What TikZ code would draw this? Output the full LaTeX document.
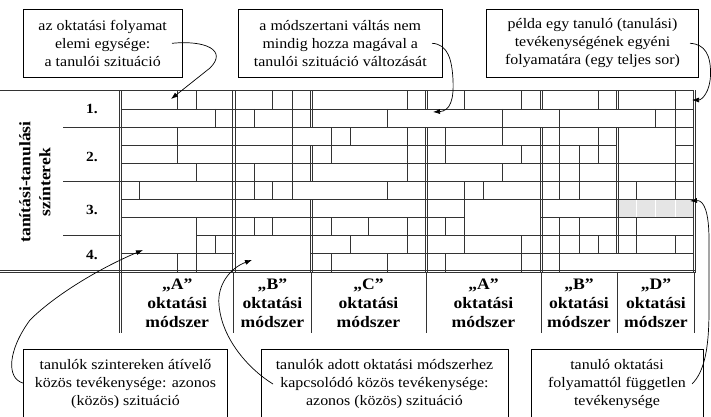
\documentclass[tikz,border=0pt]{standalone}
\usepackage{fontspec}
\setmainfont{Liberation Serif}
\newfontfamily\boxfont[FakeStretch=1.1]{Liberation Serif}
\newfontfamily\labfont[FakeStretch=1.1]{Liberation Serif}
\usetikzlibrary{arrows.meta}
\newcommand\dblv[3]{\draw[bnd] ({#1-1.1},#2) -- ({#1-1.1},#3) ({#1+1.1},#2) -- ({#1+1.1},#3);}
\begin{document}
\begin{tikzpicture}[x=1pt,y=-1pt,
  cell/.style={draw=black!80, line width=0.7pt},
  bnd/.style={draw=black!80, line width=0.7pt},
  callout/.style={draw=black, line width=0.8pt, align=center, inner sep=0pt,
    font=\boxfont\fontsize{14.5}{18}\selectfont},
  lab/.style={align=center, inner sep=0pt, font=\labfont\bfseries\fontsize{16}{19}\selectfont},
  lvl/.style={inner sep=0pt, font=\labfont\bfseries\fontsize{14}{16}\selectfont},
  conn/.style={draw=black, line width=0.7pt, -{Latex[length=7pt,width=5pt]}}
]
\useasboundingbox (0,0) rectangle (711,416);

% gray cell
\fill[black!10] (617,199.4) rectangle (694,217.4);
\foreach \x in {636.7,655.7,675.7} \draw[white, line width=0.8pt] (\x,199.4) -- (\x,217.4);

% horizontal row lines
\draw[cell] (0,90) -- (694,90);
\foreach \y in {108.9,127.3,163.8,181.7,199.4} \draw[cell] (120.5,\y) -- (694,\y);
\draw[cell] (120.5,145.5) -- (617,145.5) (675.7,145.5) -- (694,145.5);
\draw[cell] (120.5,217.4) -- (464.3,217.4) (540.7,217.4) -- (694,217.4);
\draw[cell] (196.7,235.6) -- (694,235.6);
\draw[cell] (120.5,253.5) -- (233.8,253.5) (311,253.5) -- (694,253.5);

% level separators
\foreach \y in {127.3,181.7,235.6} \draw[cell] (63,\y) -- (120.5,\y);

% vertical dividers per row
\foreach \t/\b/\xs in {
  90/108.9/{177.7,196.7,272.7,292.3,407.3,464.3,521,598.3,675.7},
  108.9/127.3/{215,254,292.3,387.3,502.3,559.3,655.7,675.7},
  127.3/145.5/{177.7,292.3,331,350,407.3,445,502.3,559.3,598.3,675.7},
  145.5/163.8/{177.7,292.3,331,407.3,445,521,559.3,579.3,598.3,675.7},
  163.8/181.7/{196.7,254,292.3,407.3,502.3,559.3,579.3,675.7},
  181.7/199.4/{139.3,254,272.7,292.3,387.3,464.3,483.3,559.3,579.3,636.7,675.7},
  199.4/217.4/{464.3},
  217.4/235.6/{196.7,254,272.7,331,368.3,407.3,445,464.3,559.3,579.3,636.7},
  235.6/253.5/{196.7,215,350,407.3,464.3,521,559.3,579.3,598.3,636.7,675.7},
  253.5/271.7/{177.7,196.7,331,387.3,445,521,559.3}}
  {\foreach \x in \xs {\draw[cell] (\x,\t) -- (\x,\b);}}

% label-area separators
\foreach \x in {233.8,311,426,541,617,694} \draw[cell] (\x,271.7) -- (\x,333);

% method boundaries (double lines)
\dblv{120.5}{90}{333}
\dblv{233.8}{90}{271.7}
\dblv{311}{90}{127.3}\dblv{311}{145.5}{181.7}\dblv{311}{199.4}{271.7}
\dblv{426}{90}{108.9}\dblv{426}{127.3}{271.7}
\dblv{541}{90}{108.9}\dblv{541}{127.3}{271.7}
\dblv{617}{90}{108.9}\dblv{617}{127.3}{253.5}
\dblv{694}{90}{271.7}
\draw[bnd] (0,270.6) -- (696,270.6) (0,272.8) -- (696,272.8);

% side labels
\node[lab, rotate=90] (szint) at (35,182) {tanítási-tanulási\\[1pt]színterek};
\node[lvl] (l1) at (92,109) {1.};
\node[lvl] (l2) at (92,156.5) {2.};
\node[lvl] (l3) at (92,209.5) {3.};
\node[lvl] (l4) at (92,255) {4.};

% method labels
\node[lab] (mA) at (177.2,303.5) {„A”\\oktatási\\módszer};
\node[lab] (mB) at (272.4,303.5) {„B”\\oktatási\\módszer};
\node[lab] (mC) at (368.5,303.5) {„C”\\oktatási\\módszer};
\node[lab] (mA2) at (483.4,303.5) {„A”\\oktatási\\módszer};
\node[lab] (mB2) at (579,303.5) {„B”\\oktatási\\módszer};
\node[lab] (mD) at (656,303.5) {„D”\\oktatási\\módszer};

% callout boxes
\node[callout, minimum width=158.7pt, minimum height=68pt] (b1) at (102.7,43.3)
  {az oktatási folyamat\\elemi egysége:\\a tanulói szituáció};
\node[callout, minimum width=204pt, minimum height=68pt] (b2) at (340.3,43.3)
  {a módszertani váltás nem\\mindig hozza magával a\\tanulói szituáció változását};
\node[callout, minimum width=211.6pt, minimum height=68pt] (b3) at (592.5,43.3)
  {példa egy tanuló (tanulási)\\tevékenységének egyéni\\folyamatára (egy teljes sor)};
\node[callout, minimum width=204.4pt, minimum height=70pt] (b4) at (125.5,384)
  {tanulók szintereken átívelő\\közös tevékenysége: azonos\\(közös) szituáció};
\node[callout, minimum width=247pt, minimum height=70pt] (b5) at (384.5,384)
  {tanulók adott oktatási módszerhez\\kapcsolódó közös tevékenysége:\\azonos (közös) szituáció};
\node[callout, minimum width=172pt, minimum height=70pt] (b6) at (617,384)
  {tanuló oktatási\\folyamattól független\\tevékenysége};

% connector end points
\coordinate (c1s) at (172,43.3);  \coordinate (c1e) at (171,99);
\coordinate (c2s) at (432,43.3);  \coordinate (c2e) at (433,112);
\coordinate (c3s) at (690,43.3);  \coordinate (c3e) at (692,100);
\coordinate (c4s) at (b4.west |- 0,383); \coordinate (c4e) at (143,250);
\coordinate (c5s) at (273,384);   \coordinate (c5e) at (252,260);
\coordinate (c6s) at (692,384);   \coordinate (c6e) at (690,201);

\draw[conn] (c1s) .. controls (205,40) and (228,50) .. (210,68) -- (c1e);
\draw[conn] (c2s) .. controls (448,44) and (452,60) .. (453,80) .. controls (454,100) and (450,111) .. (c2e);
\draw[conn] (c3s) .. controls (705,44) and (711,55) .. (710.5,75) .. controls (710,92) and (702,100) .. (c3e);
\draw[conn] (c4s) .. controls (6,378) and (8,350) .. (30,320) .. controls (55,295) and (100,268) .. (c4e);
\draw[conn] (c5s) .. controls (250,370) and (222,340) .. (219,305) .. controls (217,285) and (230,268) .. (c5e);
\draw[conn] (c6s) .. controls (704,372) and (709,350) .. (709,310) -- (709,240) .. controls (709,212) and (704,200) .. (c6e);
\end{tikzpicture}
\end{document}
